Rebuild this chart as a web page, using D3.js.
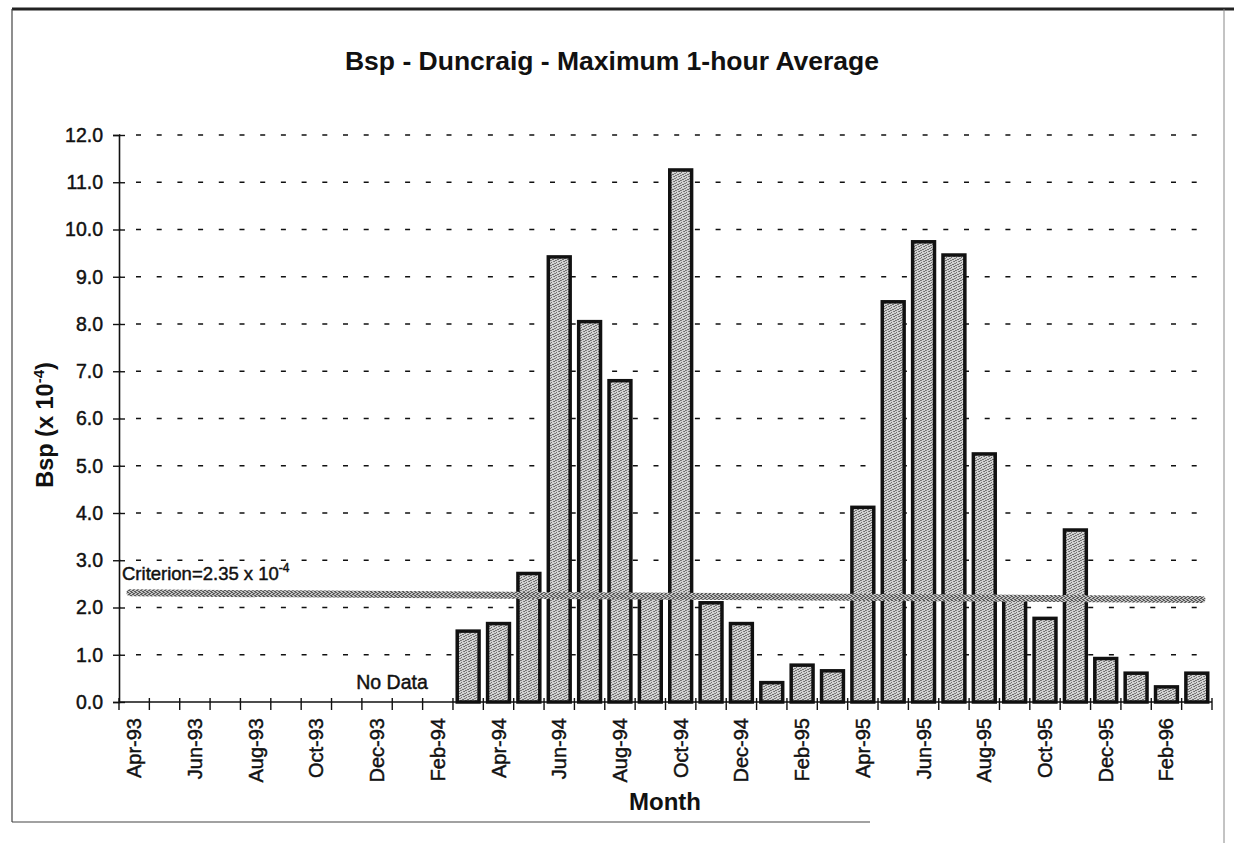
<!DOCTYPE html>
<html>
<head>
<meta charset="utf-8">
<script src="https://cdn.jsdelivr.net/npm/d3@7"></script>
<style>
  body { margin: 0; background: #fff; }
  text { font-family: "Liberation Sans", Arial, sans-serif; fill: #111; }
  .heavy { stroke: #111; stroke-width: 0.45px; }
</style>
</head>
<body>
<div id="chart"></div>
<script>
const months = [
  "Apr-93","May-93","Jun-93","Jul-93","Aug-93","Sep-93","Oct-93","Nov-93","Dec-93","Jan-94","Feb-94",
  "Mar-94","Apr-94","May-94","Jun-94","Jul-94","Aug-94","Sep-94","Oct-94","Nov-94","Dec-94",
  "Jan-95","Feb-95","Mar-95","Apr-95","May-95","Jun-95","Jul-95","Aug-95","Sep-95","Oct-95","Nov-95","Dec-95",
  "Jan-96","Feb-96","Mar-96"
];
// null = no data
const bspMax = [
  null,null,null,null,null,null,null,null,null,null,null,
  1.50,1.66,2.72,9.42,8.05,6.80,2.25,11.26,2.10,1.66,
  0.41,0.78,0.66,4.12,8.47,9.74,9.46,5.25,2.20,1.77,3.64,0.92,
  0.61,0.32,0.61
];
const yTicks = [0,1,2,3,4,5,6,7,8,9,10,11,12];
const criterion = 2.35;
const criterionDrawn = [2.31, 2.17]; // line as it sits on the page (left, right)

const svg = d3.select("#chart")
  .append("svg")
  .attr("width", 1234)
  .attr("height", 843);

// stipple fills (fixed dot layout)
const defs = svg.append("defs");
const dotsBar = [[0,0],[3,1],[1,2],[4,3],[2,4],[0,3],[3,4],[1,0],[4,1]];
const pat = defs.append("pattern")
  .attr("id", "dots")
  .attr("width", 5).attr("height", 5)
  .attr("patternUnits", "userSpaceOnUse");
pat.append("rect").attr("width", 5).attr("height", 5).attr("fill", "#d2d2d2");
pat.selectAll(".d").data(dotsBar).join("rect")
  .attr("x", d => d[0]).attr("y", d => d[1])
  .attr("width", 1).attr("height", 1)
  .attr("fill", (d, i) => i % 2 ? "#808080" : "#6e6e6e");

const dotsLine = [[0,0],[2,1],[1,2],[3,3],[0,2],[2,3],[3,0],[1,1]];
const pat2 = defs.append("pattern")
  .attr("id", "hatch")
  .attr("width", 4).attr("height", 4)
  .attr("patternUnits", "userSpaceOnUse");
pat2.append("rect").attr("width", 4).attr("height", 4).attr("fill", "#c4c4c4");
pat2.selectAll(".d").data(dotsLine).join("rect")
  .attr("x", d => d[0]).attr("y", d => d[1])
  .attr("width", 1).attr("height", 1)
  .attr("fill", "#5a5a5a");

// page frame
svg.append("line").attr("x1", 12).attr("x2", 1234).attr("y1", 9).attr("y2", 9)
  .attr("stroke", "#222").attr("stroke-width", 3);
svg.append("line").attr("x1", 12).attr("x2", 12).attr("y1", 9).attr("y2", 822)
  .attr("stroke", "#444").attr("stroke-width", 1.2);
svg.append("line").attr("x1", 12).attr("x2", 870).attr("y1", 822).attr("y2", 822)
  .attr("stroke", "#444").attr("stroke-width", 1.2);
svg.append("line").attr("x1", 1224).attr("x2", 1224).attr("y1", 9).attr("y2", 843)
  .attr("stroke", "#888").attr("stroke-width", 1);

const x = d3.scaleBand()
  .domain(months)
  .range([119, 1212])
  .paddingInner(0.28)
  .paddingOuter(0.14);

const y = d3.scaleLinear()
  .domain([0, 12])
  .range([702, 135]);

// dashed gridlines
svg.append("g")
  .selectAll("line")
  .data(yTicks.filter(d => d > 0))
  .join("line")
  .attr("x1", 119).attr("x2", 1212)
  .attr("y1", d => y(d)).attr("y2", d => y(d))
  .attr("stroke", "#111")
  .attr("stroke-width", 1.7)
  .attr("stroke-dasharray", "5,15.7")
  .attr("stroke-dashoffset", -17);

// bars
svg.append("g")
  .selectAll("rect")
  .data(months.map((m, i) => ({ m, v: bspMax[i] })).filter(d => d.v != null))
  .join("rect")
  .attr("x", d => x(d.m))
  .attr("width", x.bandwidth())
  .attr("y", d => y(d.v))
  .attr("height", d => y(0) - y(d.v))
  .attr("fill", "url(#dots)")
  .attr("stroke", "#111")
  .attr("stroke-width", 3.5);

// y axis
const yAxis = svg.append("g")
  .attr("transform", "translate(119,0)")
  .call(d3.axisLeft(y).tickValues(yTicks).tickFormat(d3.format(".1f")).tickSize(6).tickPadding(10));
yAxis.select(".domain").attr("stroke", "#111").attr("stroke-width", 1.6);
yAxis.selectAll(".tick line").attr("x1", -6).attr("x2", 6).attr("stroke", "#111").attr("stroke-width", 1.4);
yAxis.selectAll(".tick text")
  .attr("class", "heavy")
  .attr("font-size", 19.5)
  .attr("font-family", "Liberation Sans, Arial, sans-serif")
  .attr("fill", "#111");

// x axis: line, boundary ticks, labels every other month
const xAxis = svg.append("g");
xAxis.append("line")
  .attr("x1", x.range()[0]).attr("x2", x.range()[1])
  .attr("y1", y(0)).attr("y2", y(0))
  .attr("stroke", "#111").attr("stroke-width", 1.7);
xAxis.selectAll(".xt")
  .data(d3.range(months.length + 1))
  .join("line")
  .attr("class", "xt")
  .attr("x1", i => x.range()[0] + i * x.step())
  .attr("x2", i => x.range()[0] + i * x.step())
  .attr("y1", y(0) - 4).attr("y2", y(0) + 8)
  .attr("stroke", "#111").attr("stroke-width", 1.4);
xAxis.selectAll(".xl")
  .data(months.filter((m, i) => i % 2 === 0))
  .join("text")
  .attr("class", "xl heavy")
  .attr("transform", d => `translate(${x(d) + x.bandwidth() / 2 + 7},${y(0) + 16}) rotate(-90)`)
  .attr("text-anchor", "end")
  .attr("font-size", 20)
  .text(d => d);

// criterion line
svg.append("line")
  .attr("x1", x.range()[0] + 11).attr("x2", x.range()[1] - 10)
  .attr("y1", y(criterionDrawn[0])).attr("y2", y(criterionDrawn[1]))
  .attr("stroke", "url(#hatch)")
  .attr("stroke-width", 7)
  .attr("stroke-linecap", "round");

const crit = svg.append("text")
  .attr("class", "heavy")
  .attr("x", 122).attr("y", y(criterion) - 11)
  .attr("font-size", 18.5);
crit.append("tspan").text(`Criterion=${criterion} x 10`);
crit.append("tspan").attr("dy", -8).attr("font-size", 12).text("-4");

svg.append("text")
  .attr("class", "heavy")
  .attr("x", 392).attr("y", 689)
  .attr("text-anchor", "middle")
  .attr("font-size", 19.5)
  .text("No Data");

// titles
svg.append("text")
  .attr("x", 612).attr("y", 70)
  .attr("text-anchor", "middle")
  .attr("font-size", 26.5)
  .attr("font-weight", "bold")
  .text("Bsp - Duncraig - Maximum 1-hour Average");

svg.append("text")
  .attr("x", 665).attr("y", 810)
  .attr("text-anchor", "middle")
  .attr("font-size", 24)
  .attr("font-weight", "bold")
  .text("Month");

const yt = svg.append("text")
  .attr("transform", "translate(53,425) rotate(-90)")
  .attr("text-anchor", "middle")
  .attr("font-size", 23.5)
  .attr("font-weight", "bold");
yt.append("tspan").text("Bsp (x 10");
yt.append("tspan").attr("dy", -9).attr("font-size", 15).text("-4");
yt.append("tspan").attr("dy", 9).text(")");
</script>
</body>
</html>
